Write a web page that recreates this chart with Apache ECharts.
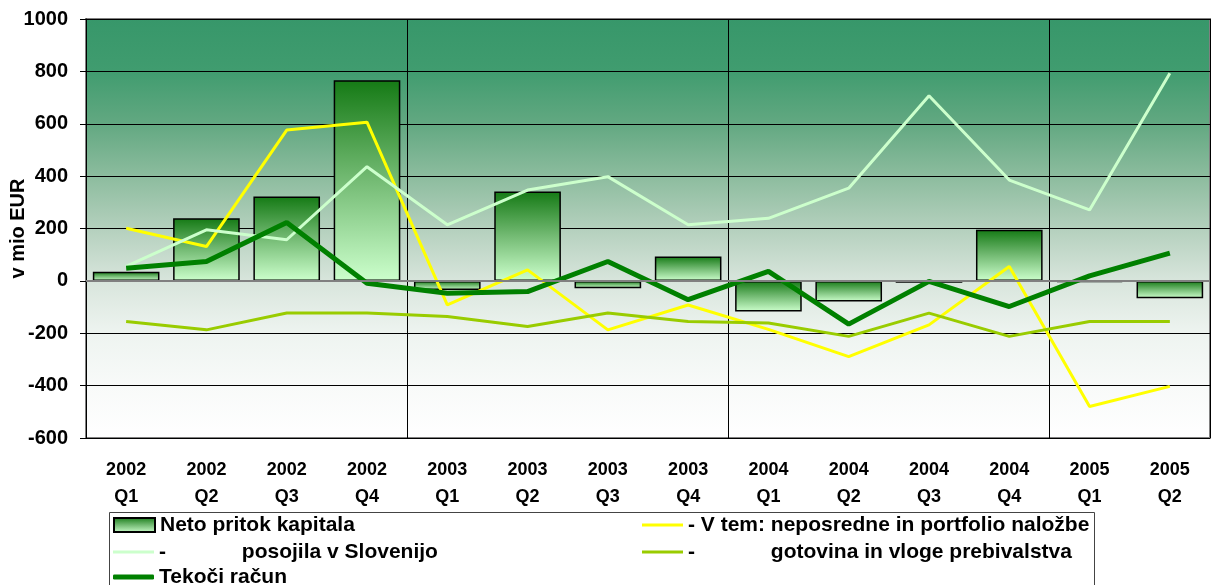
<!DOCTYPE html>
<html>
<head>
<meta charset="utf-8">
<script src="https://cdn.jsdelivr.net/npm/echarts@6/dist/echarts.min.js"></script>
<style>
html,body{margin:0;padding:0;background:#fff;}
#chart{width:1211px;height:585px;}
</style>
</head>
<body>
<div id="chart"></div>
<script>
var categories = ['2002\nQ1','2002\nQ2','2002\nQ3','2002\nQ4','2003\nQ1','2003\nQ2','2003\nQ3','2003\nQ4','2004\nQ1','2004\nQ2','2004\nQ3','2004\nQ4','2005\nQ1','2005\nQ2'];
var netoPritok = [35, 239, 322, 766, -35, 341, -28, 93, -117, -79, -7, 195, -5, -66];
var neposredne = [201, 131, 576, 606, -92, 42, -187, -92, -185, -289, -168, 55, -480, -403];
var posojila = [55, 195, 157, 436, 214, 347, 398, 214, 239, 354, 707, 385, 271, 793];
var gotovina = [-155, -187, -123, -123, -136, -174, -123, -155, -161, -212, -123, -212, -155, -155];
var tekoci = [48, 74, 223, -9, -47, -41, 74, -72, 36, -165, -2, -98, 19, 106];
var yTicks = {min: -600, max: 1000, interval: 200};

var nameNeto = 'Neto pritok kapitala';
var nameNep = '- V tem: neposredne in portfolio naložbe';
var namePos = '-             posojila v Slovenijo';
var nameGot = '-             gotovina in vloge prebivalstva';
var nameTek = 'Tekoči račun';

var FONT = '"Liberation Sans", Arial, sans-serif';
var chart = echarts.init(document.getElementById('chart'), null, {renderer: 'canvas'});

var bgGrad = new echarts.graphic.LinearGradient(0, 0, 0, 1, [
  {offset: 0, color: '#37976a'},
  {offset: 0.125, color: '#409c6f'},
  {offset: 0.25, color: '#62a881'},
  {offset: 0.375, color: '#8cbc9e'},
  {offset: 0.5, color: '#b4d0bd'},
  {offset: 0.625, color: '#d8e5dc'},
  {offset: 0.75, color: '#eef4f0'},
  {offset: 0.875, color: '#f8faf9'},
  {offset: 1, color: '#ffffff'}
]);
var barGrad = new echarts.graphic.LinearGradient(0, 0, 0, 1, [
  {offset: 0, color: '#157a15'},
  {offset: 0.5, color: '#74bb74'},
  {offset: 1, color: '#ccffcc'}
]);

var legendText = {fontFamily: FONT, fontWeight: 'bold', fontSize: 21, color: '#000', lineHeight: 22};
function mkLegend(name, left, top, icon, h) {
  return {
    left: left, top: top, itemWidth: 41, itemHeight: h, itemGap: 0, icon: icon,
    data: [name], textStyle: legendText, padding: 0
  };
}

var option = {
  animation: false,
  backgroundColor: '#ffffff',
  grid: {
    left: 86, right: 1, top: 19, bottom: 147, outerBoundsMode: 'none', containLabel: false,
    show: true, backgroundColor: bgGrad, borderColor: '#808080', borderWidth: 2
  },
  legend: [
    mkLegend(nameNeto, 113, 514, 'rect', 14),
    mkLegend(namePos, 113, 541, 'rect', 3),
    mkLegend(nameTek, 113, 566, 'roundRect', 5),
    mkLegend(nameNep, 642, 514, 'rect', 3),
    mkLegend(nameGot, 642, 541, 'rect', 3)
  ],
  graphic: [{
    type: 'rect', left: 107, top: 510, shape: {width: 985, height: 90},
    style: {fill: 'none', stroke: '#444', lineWidth: 1}, silent: true, z: -1
  }],
  xAxis: {
    type: 'category',
    data: categories,
    boundaryGap: true,
    axisLine: {show: false},
    axisTick: {show: false},
    axisLabel: {
      fontFamily: FONT, fontWeight: 'bold', fontSize: 18, color: '#000',
      lineHeight: 27, margin: 19, interval: 0
    },
    splitLine: {
      show: true,
      interval: function (index) { return index > 0 && index % 4 === 0; },
      lineStyle: {color: '#000', width: 1}
    }
  },
  yAxis: {
    type: 'value',
    min: yTicks.min, max: yTicks.max, interval: yTicks.interval,
    name: 'v mio EUR', nameLocation: 'middle', nameGap: 58, nameMoveOverlap: false,
    nameTextStyle: {fontFamily: FONT, fontWeight: 'bold', fontSize: 20, color: '#000'},
    axisLine: {show: true, lineStyle: {color: '#000', width: 1}},
    axisTick: {show: true, length: 6, lineStyle: {color: '#000'}},
    axisLabel: {
      fontFamily: FONT, fontWeight: 'bold', fontSize: 20, color: '#000', margin: 18,
      formatter: function (v) { return String(v); }
    },
    splitLine: {show: true, lineStyle: {color: '#000', width: 1}}
  },
  series: [{
    name: nameNeto, type: 'bar', data: netoPritok, barCategoryGap: '17%',
    itemStyle: {color: barGrad, borderColor: '#000', borderWidth: 1.5},
    markLine: {
      silent: true, symbol: 'none', label: {show: false},
      lineStyle: {color: '#808080', width: 2, type: 'solid'},
      data: [{yAxis: 0}]
    }
  }, {
    name: nameNep, type: 'line', data: neposredne, symbol: 'none',
    lineStyle: {color: '#ffff00', width: 3}, itemStyle: {color: '#ffff00'}
  }, {
    name: namePos, type: 'line', data: posojila, symbol: 'none',
    lineStyle: {color: '#ccffcc', width: 3}, itemStyle: {color: '#ccffcc'}
  }, {
    name: nameGot, type: 'line', data: gotovina, symbol: 'none',
    lineStyle: {color: '#99cc00', width: 3}, itemStyle: {color: '#99cc00'}
  }, {
    name: nameTek, type: 'line', data: tekoci, symbol: 'none',
    lineStyle: {color: '#008000', width: 5}, itemStyle: {color: '#008000'}
  }]
};
chart.setOption(option);
</script>
</body>
</html>
